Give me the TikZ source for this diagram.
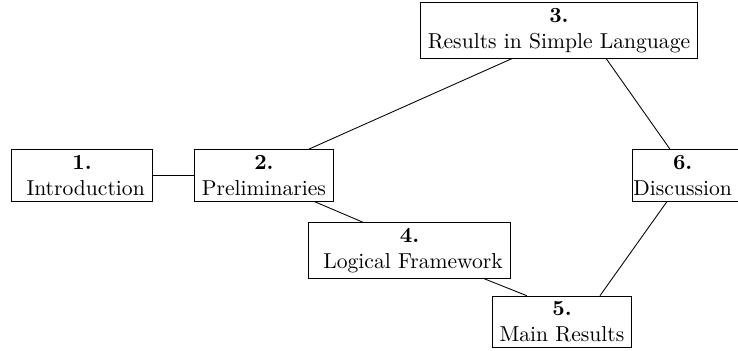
\documentclass[tikz,border=0pt]{standalone}
\usepackage{tikz}
\usetikzlibrary{calc}

\tikzset{sect/.style={draw, align=center, inner xsep=3.5pt, inner ysep=2.6pt}}

\begin{document}
\begin{tikzpicture}[x=1pt, y=1pt]
        \useasboundingbox (0,0) rectangle (341.7,-162.5);

        \node[sect] (intro)  at (38.0,-81.2)   {\textbf{1.}\\\ Introduction};
        \node[sect] (prelim) at (122.2,-81.2)  {\textbf{2.}\\Preliminaries};
        \node[sect] (simple) at (258.8,-14.1)  {\textbf{3.}\\Results in Simple Language};
        \node[sect] (logic)  at (189.6,-116.0) {\textbf{4.}\\\ Logical Framework};
        \node[sect] (main)   at (260.2,-149.1) {\textbf{5.}\\Main Results};
        \node[sect, anchor=west, inner xsep=0.5pt] (disc) at (292.6,-81.2)
            {\textbf{6.}\hspace*{10pt}\\Discussion\hspace*{10pt}};

        \draw (intro) -- (prelim);
        \draw ($(prelim.north west)!0.82!(prelim.north east)$) -- ($(simple.south west)!0.33!(simple.south east)$);
        \draw ($(simple.south west)!0.67!(simple.south east)$) -- ($(disc.north west)+(17.6,0)$);
        \draw ($(prelim.south west)!0.86!(prelim.south east)$) -- ($(logic.north west)!0.27!(logic.north east)$);
        \draw ($(logic.south west)!0.87!(logic.south east)$) -- ($(main.north west)!0.25!(main.north east)$);
        \draw ($(main.north west)!0.77!(main.north east)$) -- ($(disc.south west)+(16.2,0)$);
    \end{tikzpicture}
\end{document}
